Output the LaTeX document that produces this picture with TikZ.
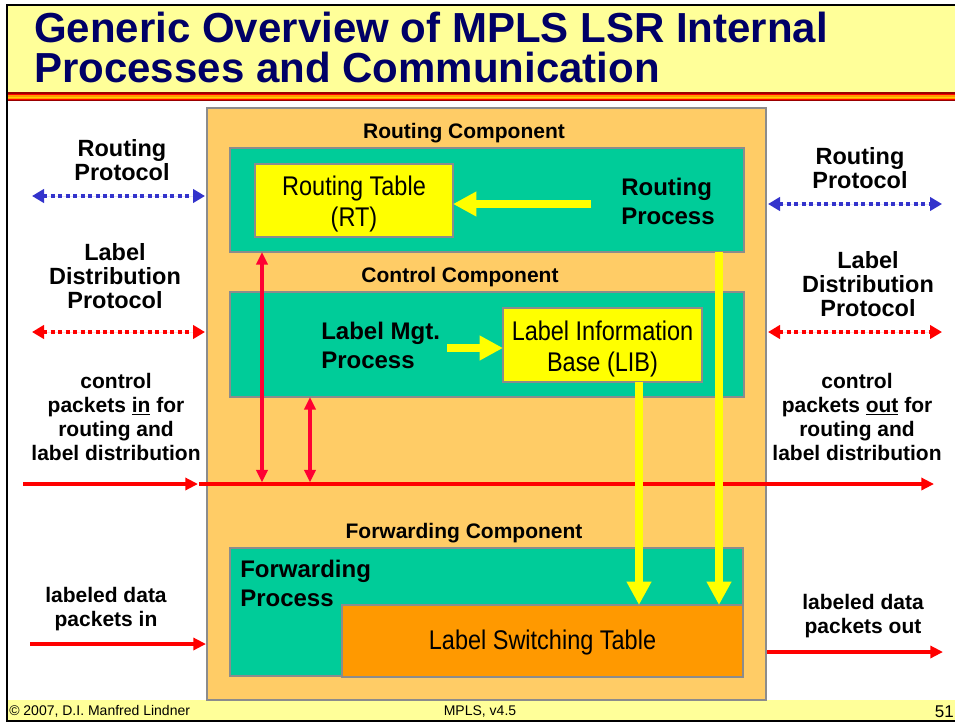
\documentclass[tikz,border=0pt]{standalone}
\usepackage{fontspec}
\setmainfont{Liberation Sans}
\newfontfamily\narrowf[FakeStretch=0.87]{Liberation Sans}
\usetikzlibrary{arrows.meta}
\definecolor{titlebg}{HTML}{FFFF99}
\definecolor{navy}{HTML}{000066}
\definecolor{outerorange}{HTML}{FFCC66}
\definecolor{procgreen}{HTML}{00CC99}
\definecolor{tableyellow}{HTML}{FFFF00}
\definecolor{lstorange}{HTML}{FF9900}
\definecolor{protoblue}{HTML}{3333CC}
\definecolor{arrred}{HTML}{FF0000}
\definecolor{vred}{HTML}{FF0033}
\definecolor{edgegray}{HTML}{8C8C8C}
\definecolor{stripedark}{HTML}{990000}
\definecolor{stripegold}{HTML}{FFCC00}
\begin{document}
\begin{tikzpicture}[x=0.75pt,y=-0.75pt,
  box/.style={draw=edgegray, line width=0.8pt, inner sep=0pt, outer sep=0pt},
  complabel/.style={font=\bfseries\fontsize{15.75}{18}\selectfont, inner sep=0pt},
  sidelabel/.style={font=\bfseries\fontsize{17.6}{18}\selectfont, align=center, inner sep=0pt},
  ctrllabel/.style={font=\bfseries\fontsize{15.75}{17.8}\selectfont, align=center, inner sep=0pt},
  proclabel/.style={font=\bfseries\fontsize{18}{21.75}\selectfont, align=left, inner sep=0pt},
  tablelabel/.style={font=\narrowf\fontsize{20.25}{23.25}\selectfont, align=center, inner sep=0pt},
  footlabel/.style={font=\fontsize{10.5}{12}\selectfont, inner sep=0pt},
  redarrow/.style={draw=arrred, line width=3pt, -{Triangle[length=9.5pt,width=9pt]}},
  vredarrow/.style={draw=vred, line width=3pt, {Triangle[length=9.5pt,width=8.5pt]}-{Triangle[length=9.5pt,width=8.5pt]}},
  yarrow/.style={draw=tableyellow, line width=5.5pt, -{Triangle[length=17.5pt,width=17.5pt]}},
  protoarrow/.style={line width=3pt, dash pattern=on 3pt off 2.6pt, {Triangle[length=9pt,width=10pt]}-{Triangle[length=9pt,width=10pt]}}
]
\useasboundingbox (0,0) rectangle (955,724);
\fill[white] (0,0) rectangle (955,724);
% title bar
\fill[titlebg] (7,5) rectangle (955,92);
\fill[stripedark] (7,92) rectangle (955,93.5);
\fill[arrred] (7,93.5) rectangle (955,95);
\fill[lstorange] (7,95) rectangle (955,96.5);
\fill[stripegold] (7,96.5) rectangle (955,97.5);
\fill[lstorange] (7,97.5) rectangle (955,99);
\fill[arrred] (7,99) rectangle (955,100);
\fill[stripedark] (7,100) rectangle (955,101);
\node[anchor=base west, align=left, inner sep=0pt, text=navy,
  font=\bfseries\fontsize{31.5}{29.25}\selectfont] (title) at (34,82)
  {Generic Overview of MPLS LSR Internal\\Processes and Communication};
% footer bar
\fill[titlebg] (7,700) rectangle (955,720);
\node[footlabel, anchor=west] (copy) at (9,711) {© 2007, D.I. Manfred Lindner};
\node[footlabel] (ver) at (480,711) {MPLS, v4.5};
\node[font=\fontsize{12.75}{14}\selectfont, inner sep=0pt, anchor=east] (page) at (954,712) {51};
% frame
\draw[black, line width=2pt] (955,5) -- (7,5) -- (7,721) -- (955,721);

% boxes
\node[box, fill=outerorange, minimum width=419.25pt, minimum height=444pt] (ob) at (486.5,404) {};
\node[box, fill=procgreen, minimum width=385.5pt, minimum height=78pt] (rg) at (487,200) {};
\node[box, fill=tableyellow, minimum width=148.5pt, minimum height=54.75pt] (rt) at (354,200.5) {};
\node[box, fill=procgreen, minimum width=385.5pt, minimum height=78.75pt] (cg) at (487,344.5) {};
\node[box, fill=tableyellow, minimum width=149.25pt, minimum height=55.5pt] (lib) at (602.5,345) {};
\node[box, fill=procgreen, minimum width=384.75pt, minimum height=96pt] (fg) at (486.5,612) {};
\node[box, fill=lstorange, minimum width=300.75pt, minimum height=54pt] (lst) at (542.5,641) {};

% table labels
\node[tablelabel] (rtl) at (354,204) {Routing Table\\(RT)};
\node[tablelabel] (libl) at (602.5,349) {Label Information\\Base (LIB)};
\node[tablelabel] (lstl) at (542.5,643) {Label Switching Table};

% component labels
\node[complabel] (rcl) at (464,133) {Routing Component};
\node[complabel] (ccl) at (460,277) {Control Component};
\node[complabel] (fcl) at (464,533) {Forwarding Component};
\node[proclabel, anchor=west] (rp) at (621,201) {Routing\\Process};
\node[proclabel, anchor=west] (lm) at (321,345) {Label Mgt.\\Process};
\node[proclabel, anchor=west] (fp) at (240,583) {Forwarding\\Process};

% side labels
\node[sidelabel] (rpl) at (122,160) {Routing\\Protocol};
\node[sidelabel] (rpr) at (860,168) {Routing\\Protocol};
\node[sidelabel] (ldl) at (115,276) {Label\\Distribution\\Protocol};
\node[sidelabel] (ldr) at (868,284) {Label\\Distribution\\Protocol};
\node[ctrllabel] (cpl) at (116,417) {control\\packets \underline{in} for\\routing and\\label distribution};
\node[ctrllabel] (cpr) at (857,417) {control\\packets \underline{out} for\\routing and\\label distribution};
\node[ctrllabel] (dpl) at (106,609) {labeled data\\packets in};
\node[ctrllabel] (dpr) at (863,616) {labeled data\\packets out};

% coordinates
\coordinate (rpL) at (32,196);
\coordinate (rpLe) at (205,196);
\coordinate (rpR) at (768,204);
\coordinate (rpRe) at (942,204);
\coordinate (ldL) at (32,332);
\coordinate (ldLe) at (205,332);
\coordinate (ldR) at (768,332);
\coordinate (ldRe) at (942,332);
\coordinate (cin) at (23,484);
\coordinate (cinE) at (198,484);
\coordinate (cbus) at (199,484);
\coordinate (cout) at (934,484);
\coordinate (din) at (30,644);
\coordinate (dinE) at (206,644);
\coordinate (dout) at (767,652);
\coordinate (doutE) at (943,652);
\coordinate (va) at (262,482.5);
\coordinate (vb) at (310,482.5);
\coordinate (rpa) at (591,204);
\coordinate (lma) at (447,348);
\coordinate (libx) at (639,382);
\coordinate (rgx) at (719,252);

% protocol arrows
\draw[protoarrow, draw=protoblue, fill=protoblue] (rpL) -- (rpLe);
\draw[protoarrow, draw=protoblue, fill=protoblue] (rpR) -- (rpRe);
\draw[protoarrow, draw=arrred, fill=arrred] (ldL) -- (ldLe);
\draw[protoarrow, draw=arrred, fill=arrred] (ldR) -- (ldRe);

% red packet arrows
\draw[redarrow] (cin) -- (cinE);
\draw[redarrow] (cbus) -- (cout);
\draw[redarrow] (din) -- (dinE);
\draw[redarrow] (dout) -- (doutE);
\draw[vredarrow] (rg.south -| va) -- (va);
\draw[vredarrow] (cg.south -| vb) -- (vb);

% yellow arrows
\draw[yarrow] (rpa) -- (rt.east |- rpa);
\draw[yarrow] (lma) -- (lib.west |- lma);
\draw[yarrow] (libx) -- (lst.north -| libx);
\draw[yarrow] (rgx) -- (lst.north -| rgx);
\end{tikzpicture}
\end{document}
